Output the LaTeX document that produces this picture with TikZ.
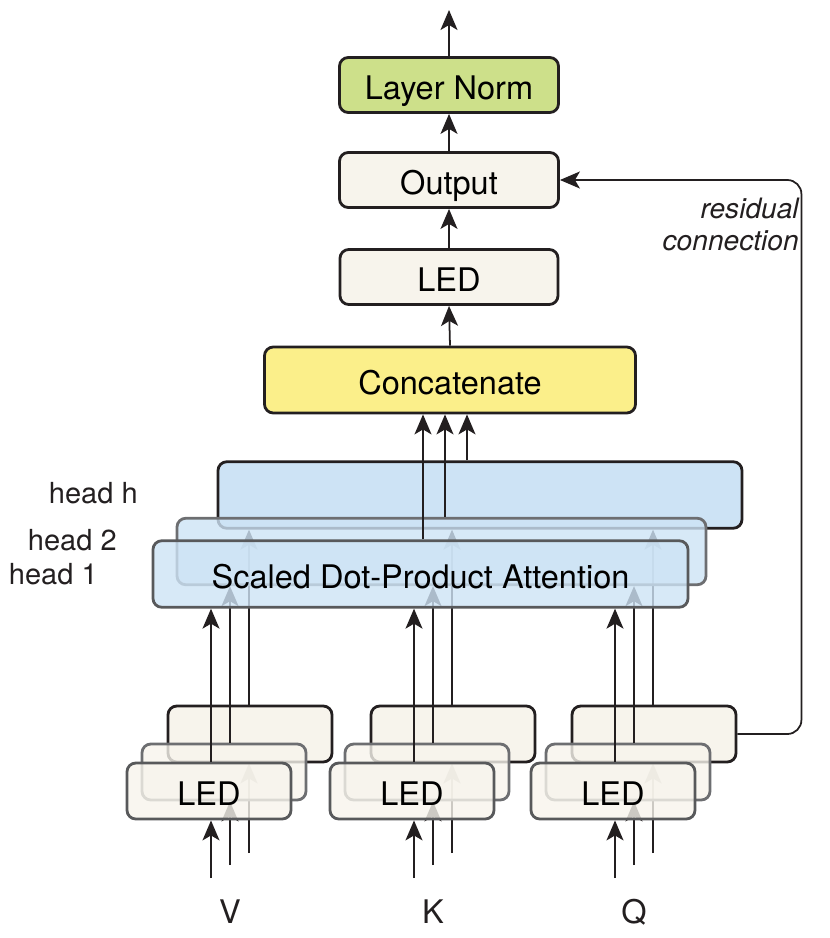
\documentclass[tikz,border=0pt]{standalone}
\usepackage{fontspec}
\setmainfont{TeX Gyre Heros}
\usetikzlibrary{arrows,arrows.meta,positioning,calc}

\definecolor{cream}{HTML}{F7F4EC}
\definecolor{normgreen}{HTML}{CDE08A}
\definecolor{catyellow}{HTML}{FBEF8A}
\definecolor{attblue}{HTML}{CDE3F5}
\definecolor{edgedark}{HTML}{231F20}
\definecolor{edgegray}{HTML}{58595B}
\definecolor{edgelight}{HTML}{6D6E71}

\tikzset{
  blk/.style={draw=edgedark, line width=1.6pt, rounded corners=5pt, fill=cream,
    minimum height=1.1cm, text opacity=1, text height=16pt, text depth=0pt,
    font=\fontsize{18.5}{22}\selectfont},
  ledbox/.style={blk, minimum width=3.28cm, minimum height=1.12cm},
  headbox/.style={blk, fill=attblue, minimum height=1.33cm},
  flow/.style={-{Stealth[length=4mm,width=3.4mm,inset=1mm]}, line width=1pt, draw=edgedark},
  lbl/.style={font=\fontsize{16.5}{20}\selectfont, text=edgedark}
}

\begin{document}
\begin{tikzpicture}[x=0.2mm, y=-0.2mm]
  \useasboundingbox (0,0) rectangle (829,938);

  % top of the stack
  \node (ln) [blk, fill=normgreen, minimum width=4.38cm] at (449,85) {Layer Norm};
  \node (out) [blk, minimum width=4.38cm] at (449,180) {Output};
  \node (led) [blk, minimum width=4.36cm] at (449,277) {LED};
  \node (cat) [blk, fill=catyellow, minimum width=7.42cm, minimum height=1.32cm] at (450,380) {Concatenate};
  \coordinate (top) at (449,10);

  \draw[flow] (ln.north) -- (top);
  \draw[flow] (out.north) -- (ln.south);
  \draw[flow] (led.north) -- (out.south);
  \draw[flow] (cat.north) -- (led.south);

  % head h (back)
  \node (hh) [headbox, minimum width=10.48cm] at (480,495) {};
  \coordinate (tap3) at (467,0);
  \draw[flow] (tap3 |- hh.north) -- (tap3 |- cat.south);
  \foreach \n/\x in {v/209, k/412, q/613} {
    \node (\n3) [ledbox] at (\x+41,734) {};
    \coordinate (\n in3) at (\x+40,853);
    \draw[flow] (\n in3) -- (\n in3 |- \n3.south);
    \draw[flow] (\n in3 |- \n3.north) -- (\n in3 |- hh.south);
  }

  % residual
  \draw[flow, rounded corners=8pt] (q3.east) -- ++(64,0) |- (out.east);
  \node (res) [font=\fontsize{16}{18}\selectfont\itshape, text=edgedark, align=right, anchor=north east, inner sep=0pt] at (799,198) {residual\\connection};

  % head 2 (middle)
  \node (h2) [headbox, draw=edgelight, fill opacity=0.8, minimum width=10.58cm] at (441.5,551.5) {};
  \coordinate (tap2) at (445,0);
  \draw[flow] (tap2 |- h2.north) -- (tap2 |- cat.south);
  \foreach \n/\x in {v/209, k/412, q/613} {
    \node (\n2) [ledbox, draw=edgelight, fill opacity=0.8] at (\x+15,772) {};
    \coordinate (\n in2) at (\x+21,865);
    \draw[flow] (\n in2) -- (\n in2 |- \n2.south);
    \draw[flow] (\n in2 |- \n2.north) -- (\n in2 |- h2.south);
  }

  % head 1 (front)
  \node (h1) [headbox, draw=edgegray, fill opacity=0.8, minimum width=10.7cm] at (420.5,574) {Scaled Dot-Product Attention};
  \coordinate (tap1) at (423,0);
  \draw[flow] (tap1 |- h1.north) -- (tap1 |- cat.south);
  \foreach \n/\x/\t in {v/209/V, k/412/K, q/613/Q} {
    \node (\n1) [ledbox, draw=edgegray, fill opacity=0.8] at (\x,791) {LED};
    \coordinate (\n in1) at (\x+2,878);
    \draw[flow] (\n in1) -- (\n in1 |- \n1.south);
    \draw[flow] (\n in1 |- \n1.north) -- (\n in1 |- h1.south);
    \node (\n lab) [font=\fontsize{18.5}{22}\selectfont, text=edgedark] at (\x+21,912) {\t};
  }

  % head labels
  \node (lhh) [lbl, anchor=east, inner sep=0pt] at (138,493) {head h};
  \node (lh2) [lbl, anchor=east, inner sep=0pt] at (117,540) {head 2};
  \node (lh1) [lbl, anchor=east, inner sep=0pt] at (98,574) {head 1};
\end{tikzpicture}
\end{document}
